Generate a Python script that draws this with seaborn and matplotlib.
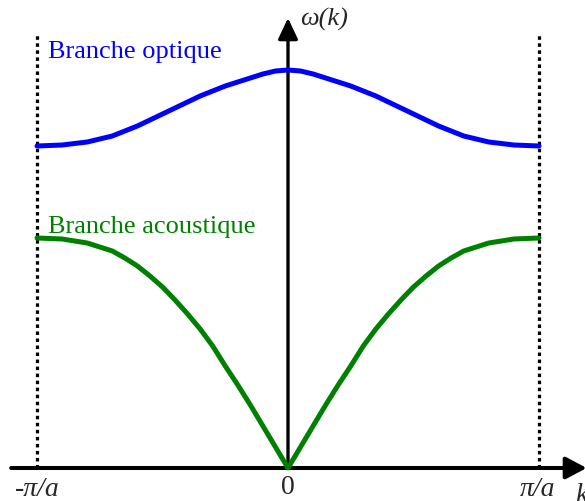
import numpy as np
import pandas as pd
import matplotlib
matplotlib.use("Agg")
import matplotlib.pyplot as plt
import seaborn as sns

# Wave vector in units of pi/a (half zone, mirrored to the left)
k_half = [0.0, 0.05, 0.1, 0.15, 0.2, 0.25, 0.3, 0.35, 0.4, 0.45, 0.5,
          0.55, 0.6, 0.65, 0.7, 0.75, 0.8, 0.85, 0.9, 0.95, 1.0]
# Dispersion of the two branches (arbitrary frequency units)
omega_optique = [3.98, 3.97, 3.94, 3.90, 3.86, 3.82, 3.77, 3.72, 3.66, 3.60, 3.54,
                 3.48, 3.42, 3.37, 3.32, 3.29, 3.26, 3.245, 3.23, 3.225, 3.22]
omega_acoustique = [0.0, 0.21, 0.42, 0.63, 0.83, 1.02, 1.22, 1.39, 1.54, 1.68, 1.81,
                    1.92, 2.02, 2.10, 2.17, 2.21, 2.25, 2.27, 2.29, 2.295, 2.30]

zone_edges = [-1.0, 1.0]
tick_labels = ["-π/a", "0", "π/a"]
branch_labels = ["Branche optique", "Branche acoustique"]

sns.set_style("white")
plt.rcParams["font.family"] = ["Liberation Serif", "DejaVu Serif"]

def full_zone(values):
    k = [-x for x in k_half[::-1]] + k_half[1:]
    w = values[::-1] + values[1:]
    return k, w

k_o, w_o = full_zone(omega_optique)
k_a, w_a = full_zone(omega_acoustique)
df = pd.concat([
    pd.DataFrame({"k": k_o, "omega": w_o, "branche": branch_labels[0]}),
    pd.DataFrame({"k": k_a, "omega": w_a, "branche": branch_labels[1]}),
])

fig = plt.figure(figsize=(5.85, 5.01), dpi=100)
ax = fig.add_axes([0, 0, 1, 1])
ax.set_xlim(-288 / 251, 297 / 251)
ax.set_ylim(-0.33, 4.68)
ax.axis("off")

# Zone boundaries
for kb in zone_edges:
    ax.plot([kb, kb], [0, 4.33], color="black", lw=2.3,
            linestyle=(0, (1.1, 1.1)), zorder=1)

# Axes with arrows
ax.annotate("", xy=(1.19, 0), xytext=(-1.103, 0), annotation_clip=False,
            arrowprops=dict(arrowstyle="-|>,head_length=0.85,head_width=0.45",
                            mutation_scale=15, lw=2.9, color="black",
                            shrinkA=0, shrinkB=0), zorder=2)
ax.annotate("", xy=(0, 4.50), xytext=(0, 0), annotation_clip=False,
            arrowprops=dict(arrowstyle="-|>,head_length=0.85,head_width=0.4",
                            mutation_scale=15, lw=2.4, color="black",
                            shrinkA=0, shrinkB=0), zorder=2)

sns.lineplot(data=df, x="k", y="omega", hue="branche",
             palette={branch_labels[0]: "#0000ff", branch_labels[1]: "#008000"},
             sort=False, lw=3.6, legend=False, ax=ax, zorder=3)

ax.text(-0.956, 4.10, branch_labels[0], color="#0000ff", fontsize=19,
        ha="left", va="baseline")
ax.text(-0.956, 2.35, branch_labels[1], color="#008000", fontsize=19,
        ha="left", va="baseline")

ax.text(-1.088, -0.275, tick_labels[0], fontsize=20, style="italic",
        ha="left", va="baseline")
ax.text(0.0, -0.265, tick_labels[1], fontsize=20, ha="center", va="baseline")
ax.text(0.924, -0.275, tick_labels[2], fontsize=20, style="italic",
        ha="left", va="baseline")
ax.text(1.143, -0.34, "k", fontsize=20, style="italic",
        ha="left", va="baseline")
ax.text(0.048, 4.42, "ω(k)", fontsize=19, style="italic",
        ha="left", va="baseline")

fig.savefig("out.png", dpi=100)
